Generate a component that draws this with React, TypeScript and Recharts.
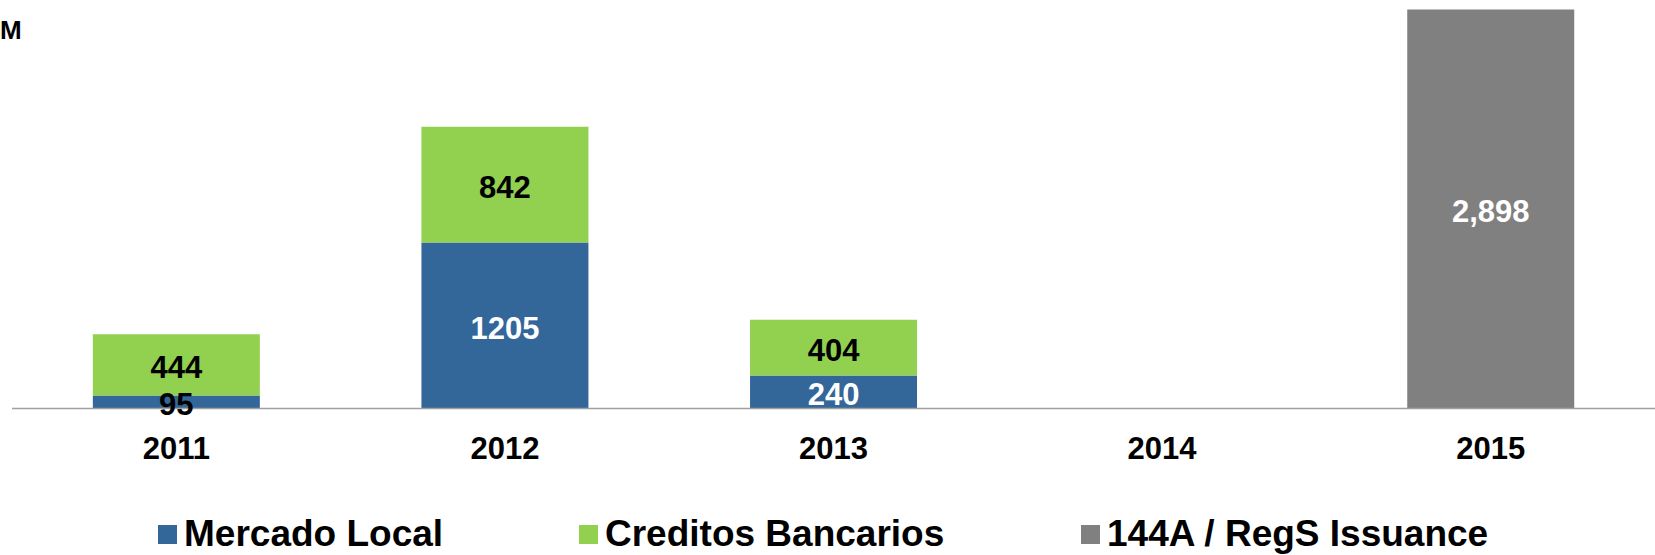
import * as React from "react"
import {
  BarChart,
  Bar,
  XAxis,
  YAxis,
  Legend,
  LabelList,
} from "recharts"

const years = ["2011", "2012", "2013", "2014", "2015"]
const mercadoLocal = [95, 1205, 240, null, null]
const creditosBancarios = [444, 842, 404, null, null]
const issuance144A = [null, null, null, null, 2898]

const FONT = "'Liberation Sans', Arial, sans-serif"
const BLUE = "#336699"
const GREEN = "#92D050"
const GRAY = "#808080"

const data = years.map((year, i) => ({
  year,
  mercado: mercadoLocal[i],
  creditos: creditosBancarios[i],
  issuance: issuance144A[i],
}))

const legendItems = [
  { label: "Mercado Local", color: BLUE },
  { label: "Creditos Bancarios", color: GREEN },
  { label: "144A / RegS Issuance", color: GRAY },
]
// left edge of each legend swatch, page pixels
const legendLeft = [158, 579, 1081]

function makeLabel(color: (h: number) => string, format: (v: number) => string) {
  return (props: any) => {
    const { x, y, width, height, value } = props
    if (value == null || value === 0) return null
    return (
      <text
        x={x + width / 2}
        y={y + height / 2 + 2.5}
        textAnchor="middle"
        dominantBaseline="central"
        fill={color(height)}
        fontFamily={FONT}
        fontWeight="bold"
        fontSize={31}
      >
        {format(value)}
      </text>
    )
  }
}

const plain = (v: number) => String(v)
const grouped = (v: number) => v.toLocaleString("en-US")

function YearTick(props: any) {
  const { x, y, payload } = props
  return (
    <text
      x={x}
      y={y + 39.5}
      textAnchor="middle"
      dominantBaseline="central"
      fill="#000"
      fontFamily={FONT}
      fontWeight="bold"
      fontSize={31}
    >
      {payload.value}
    </text>
  )
}

function LegendContent() {
  return (
    <div
      style={{
        position: "relative",
        height: 56,
        fontFamily: FONT,
        fontWeight: "bold",
        fontSize: 37,
        color: "#000",
        whiteSpace: "nowrap",
      }}
    >
      {legendItems.map((item, i) => (
        <div
          key={item.label}
          style={{
            position: "absolute",
            left: legendLeft[i] - 12,
            top: 14,
            height: 42,
            display: "flex",
            alignItems: "center",
          }}
        >
          <span
            style={{
              display: "inline-block",
              width: 19,
              height: 19,
              background: item.color,
              marginRight: 7,
            }}
          />
          <span style={{ lineHeight: "42px" }}>{item.label}</span>
        </div>
      ))}
    </div>
  )
}

export default function App() {
  return (
    <div style={{ position: "fixed", left: 0, top: 0, width: 1655, height: 555, background: "#fff" }}>
      <BarChart
        width={1655}
        height={555}
        data={data}
        margin={{ top: 9.5, right: 0, left: 12, bottom: 0 }}
        barCategoryGap="24.6%"
      >
        <text x={0} y={39} fontFamily={FONT} fontWeight="bold" fontSize={26} fill="#000">
          M
        </text>
        <XAxis
          dataKey="year"
          axisLine={{ stroke: "#a0a0a0", strokeWidth: 1.5 }}
          tickLine={false}
          tickSize={0}
          tickMargin={0}
          height={90.5}
          interval={0}
          tick={<YearTick />}
        />
        <YAxis hide domain={[0, 2898]} />
        <Legend verticalAlign="bottom" content={<LegendContent />} />
        <Bar dataKey="mercado" stackId="a" fill={BLUE} isAnimationActive={false}>
          <LabelList
            dataKey="mercado"
            content={makeLabel((h) => (h < 20 ? "#000" : "#fff"), plain)}
          />
        </Bar>
        <Bar dataKey="creditos" stackId="a" fill={GREEN} isAnimationActive={false}>
          <LabelList dataKey="creditos" content={makeLabel(() => "#000", plain)} />
        </Bar>
        <Bar dataKey="issuance" stackId="a" fill={GRAY} isAnimationActive={false}>
          <LabelList dataKey="issuance" content={makeLabel(() => "#fff", grouped)} />
        </Bar>
      </BarChart>
    </div>
  )
}
